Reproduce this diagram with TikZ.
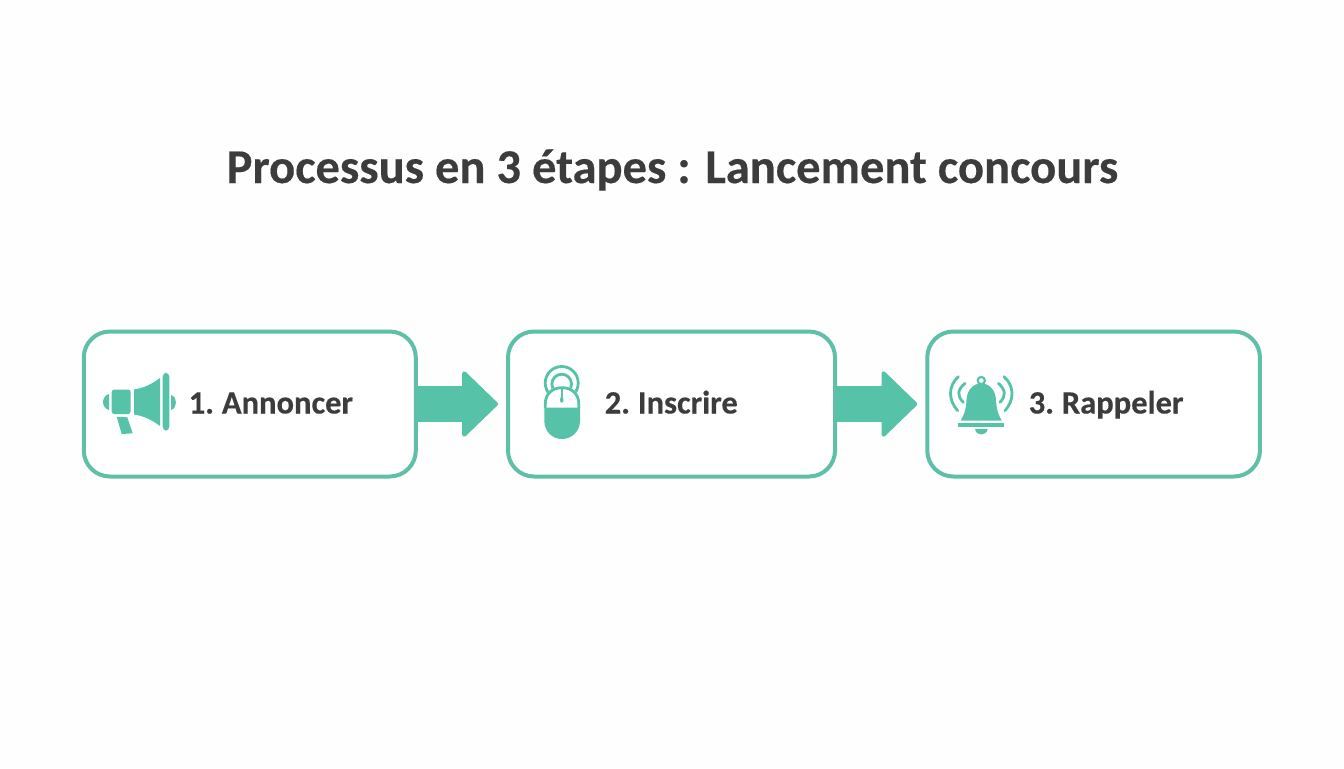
\documentclass[tikz,border=0pt]{standalone}
\usepackage{fontspec}
\setmainfont[BoldFeatures={FakeBold=0.3}]{Carlito}
\newfontfamily\stepfont[BoldFeatures={FakeBold=0.3},WordSpace=0.75]{Carlito}
\usetikzlibrary{arrows.meta,calc}
\definecolor{teal1}{HTML}{5FBFA9}
\definecolor{teal2}{HTML}{56C2A8}
\definecolor{ink}{HTML}{3C3C3C}
\definecolor{paper}{HTML}{FEFEFE}
\tikzset{
  stepbox/.style={draw=teal1,line width=3pt,rounded corners=19.5pt,fill=white,minimum height=108.75pt,inner sep=0pt},
  steplabel/.style={text=ink,font=\stepfont\fontsize{24.4pt}{28pt}\selectfont\bfseries,anchor=base west,inner sep=0pt},
  titlelabel/.style={text=ink,font=\fontsize{36.4pt}{40pt}\selectfont\bfseries,anchor=base,inner sep=0pt},
  blockarrow/.style={draw=teal2,line width=27pt,shorten >=6pt,-{Triangle[length=27.5pt,width=52.5pt,round,line width=3pt,fill=teal2,color=teal2]}},
  iconfill/.style={fill=teal2,draw=none},
  iconline/.style={draw=teal2,line width=2.1pt,line cap=round}
}
\begin{document}
\begin{tikzpicture}[x=0.75pt,y=-0.75pt]
\useasboundingbox (0,0) rectangle (1344,768);
\fill[paper] (0,0) rectangle (1344,768);
\node[titlelabel] (title) at (672.5,183) {Processus en 3 étapes : Lancement concours};
\node[stepbox,minimum width=249pt] (b1) at (249.8,404) {};
\node[stepbox,minimum width=245.25pt] (b2) at (671.5,404) {};
\node[stepbox,minimum width=249.5pt] (b3) at (1093.6,404) {};
\draw[blockarrow] (b1.east) -- (b2.west);
\draw[blockarrow] (b2.east) -- (b3.west);
\node[steplabel] (t1) at (188.5,413.5) {1. Annoncer};
\node[steplabel] (t2) at (604.5,413.5) {2. Inscrire};
\node[steplabel] (t3) at (1028.5,413.5) {3. Rappeler};
% megaphone
\fill[iconfill] (109,394) .. controls (105,395) and (103,399) .. (103,402) .. controls (103,405) and (105,409) .. (109,410) -- cycle;
\fill[iconfill,rounded corners=2pt] (111.7,389.5) -- (130.7,389.5) -- (130.7,414) -- (111.7,414) -- cycle;
\fill[iconfill] (134,389.5) .. controls (144,388) and (152,384) .. (160,378) -- (160,426) .. controls (152,420) and (144,416) .. (134,414.5) -- cycle;
\fill[iconfill,rounded corners=3pt] (162.7,372.7) -- (169.3,372.7) -- (169.3,430.7) -- (162.7,430.7) -- cycle;
\fill[iconfill] (171,395) .. controls (174.5,396) and (176,399.5) .. (176,402.5) .. controls (176,405.5) and (174.5,409) .. (171,410) -- cycle;
\fill[iconfill] (116.7,416.7) -- (127.3,417.3) -- (132.7,433.3) -- (121.7,434) -- cycle;
% mouse
\draw[iconline] (561.7,383) circle (16.5);
\draw[iconline] (561.7,384) circle (9.8);
\fill[white] (544.3,408) -- (544.3,404) .. controls (544.3,393) and (552,386) .. (562,386) .. controls (572,386) and (580,393) .. (580,404) -- (580,408) -- cycle;
\draw[iconline,line cap=butt] (545.3,408) -- (545.3,404) .. controls (545.3,394) and (552,387.7) .. (562,387.7) .. controls (572,387.7) and (578.8,394) .. (578.8,404) -- (578.8,408);
\fill[iconfill] (544.3,407.7) -- (580,407.7) -- (580,421) .. controls (580,431) and (572,439) .. (562,439) .. controls (552,439) and (544.3,431) .. (544.3,421) -- cycle;
\draw[teal2,line width=1.2pt] (561.7,387) -- (561.7,400);
\fill[iconfill] (561.7,395.5) .. controls (563.5,398) and (563.7,400) .. (563.5,401) .. controls (563,403.5) and (560.5,403.5) .. (560,401) .. controls (559.7,400) and (560,398) .. (561.7,395.5) -- cycle;
% bell
\draw[iconline,line width=1.6pt] (981.3,380.5) circle (3.6);
\fill[iconfill] (981.3,383.5) .. controls (973,383.5) and (967,390) .. (966.5,400) .. controls (966,410) and (964,415) .. (960.7,420.5) -- (1001.7,420.5) .. controls (998.5,415) and (996.5,410) .. (996,400) .. controls (995.5,390) and (989.5,383.5) .. (981.3,383.5) -- cycle;
\fill[iconfill] (958.3,422.7) rectangle (1004.3,426.7);
\fill[iconfill] (975,429) -- (987.7,429) .. controls (987,433) and (984,434.5) .. (981.3,434.5) .. controls (978.5,434.5) and (975.7,433) .. (975,429) -- cycle;
\draw[iconline] (958.3,376.7) .. controls (948,386) and (948,400) .. (957.7,410.7);
\draw[iconline] (965,383.3) .. controls (957,390) and (957,396) .. (963.3,402.3);
\draw[iconline] (1004,376.7) .. controls (1014.5,386) and (1014.5,400) .. (1005,410.7);
\draw[iconline] (998.3,383.3) .. controls (1006,390) and (1006,396) .. (1000,402.3);
\end{tikzpicture}
\end{document}
